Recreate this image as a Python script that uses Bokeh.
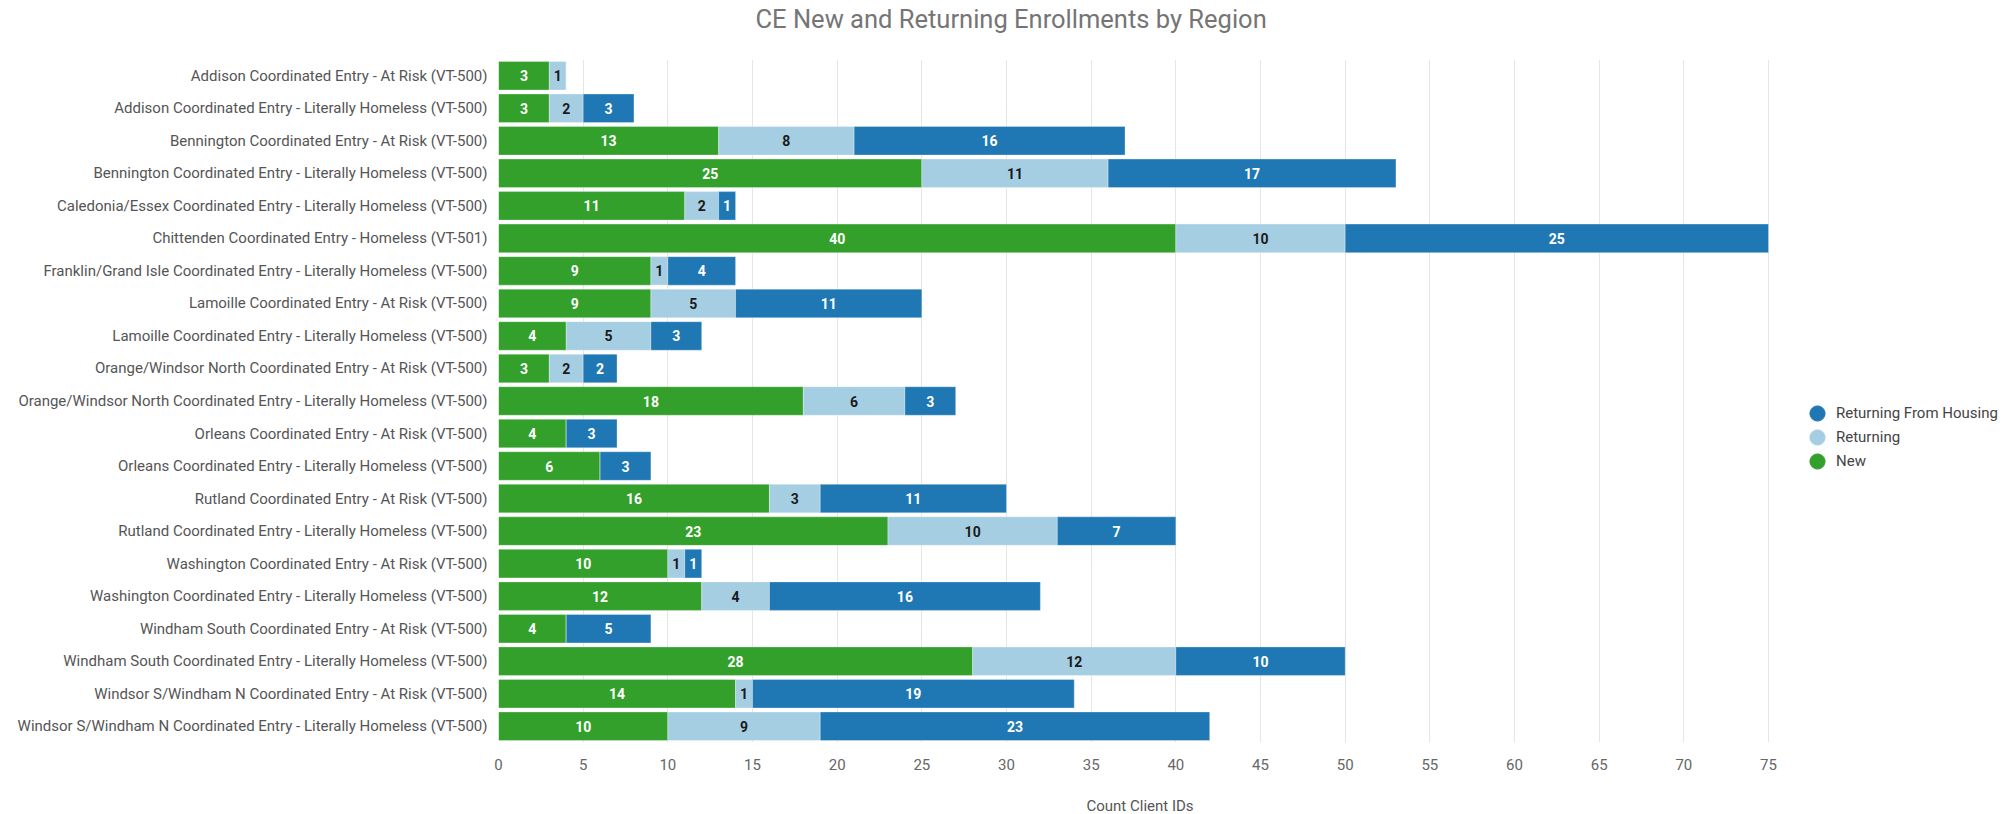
import numpy as np
from bokeh.plotting import figure
from bokeh.models import ColumnDataSource, FactorRange, Range1d, Legend, LegendItem, Title, FixedTicker
from bokeh.embed import file_html
from bokeh.resources import INLINE
from bokeh.core.properties import value

regions = [
    "Addison Coordinated Entry - At Risk (VT-500)",
    "Addison Coordinated Entry - Literally Homeless (VT-500)",
    "Bennington Coordinated Entry - At Risk (VT-500)",
    "Bennington Coordinated Entry - Literally Homeless (VT-500)",
    "Caledonia/Essex Coordinated Entry - Literally Homeless (VT-500)",
    "Chittenden Coordinated Entry - Homeless (VT-501)",
    "Franklin/Grand Isle Coordinated Entry - Literally Homeless (VT-500)",
    "Lamoille Coordinated Entry - At Risk (VT-500)",
    "Lamoille Coordinated Entry - Literally Homeless (VT-500)",
    "Orange/Windsor North Coordinated Entry - At Risk (VT-500)",
    "Orange/Windsor North Coordinated Entry - Literally Homeless (VT-500)",
    "Orleans Coordinated Entry - At Risk (VT-500)",
    "Orleans Coordinated Entry - Literally Homeless (VT-500)",
    "Rutland Coordinated Entry - At Risk (VT-500)",
    "Rutland Coordinated Entry - Literally Homeless (VT-500)",
    "Washington Coordinated Entry - At Risk (VT-500)",
    "Washington Coordinated Entry - Literally Homeless (VT-500)",
    "Windham South Coordinated Entry - At Risk (VT-500)",
    "Windham South Coordinated Entry - Literally Homeless (VT-500)",
    "Windsor S/Windham N Coordinated Entry - At Risk (VT-500)",
    "Windsor S/Windham N Coordinated Entry - Literally Homeless (VT-500)",
]
new = [3, 3, 13, 25, 11, 40, 9, 9, 4, 3, 18, 4, 6, 16, 23, 10, 12, 4, 28, 14, 10]
returning = [1, 2, 8, 11, 2, 10, 1, 5, 5, 2, 6, 0, 0, 3, 10, 1, 4, 0, 12, 1, 9]
returning_from_housing = [0, 3, 16, 17, 1, 25, 4, 11, 3, 2, 3, 3, 3, 11, 7, 1, 16, 5, 10, 19, 23]

series_keys = ["new", "returning", "rfh"]
series_names = ["New", "Returning", "Returning From Housing"]
series_colors = ["#33a02c", "#a6cee3", "#1f78b4"]
label_colors = ["#ffffff", "#1a1a1a", "#ffffff"]
x_ticks = [0, 5, 10, 15, 20, 25, 30, 35, 40, 45, 50, 55, 60, 65, 70, 75]
title_text = "CE New and Returning Enrollments by Region"
x_title = "Count Client IDs"

W, H = 2012, 814
FRAME_L, AXIS_END_PX = 498, 1768          # pixel position of x=0 and x=75
FRAME_TOP, FRAME_BOTTOM = 59, 742
x_max_axis = 75
x_end = x_max_axis * (W - FRAME_L) / (AXIS_END_PX - FRAME_L)   # frame runs to right edge (legend area)

src = ColumnDataSource(dict(region=regions, new=new, returning=returning, rfh=returning_from_housing))

p = figure(width=W, height=H,
           y_range=FactorRange(factors=list(reversed(regions))),
           x_range=Range1d(0, x_end),
           output_backend="svg", toolbar_location=None,
           min_border_left=FRAME_L, min_border_right=0,
           min_border_top=FRAME_TOP, min_border_bottom=H - FRAME_BOTTOM)

p.hbar_stack(series_keys, y="region", height=0.877, source=src,
             fill_color=series_colors, line_color="white", line_alpha=0.3, line_width=1)

# value labels at segment centers
lx, ly, lt, lc = [], [], [], []
series_vals = [new, returning, returning_from_housing]
for i, r in enumerate(regions):
    left = 0
    for k, vals in enumerate(series_vals):
        v = vals[i]
        if v > 0:
            lx.append(left + v / 2)
            ly.append(r)
            lt.append(str(v))
            lc.append(label_colors[k])
        left += v
lsrc = ColumnDataSource(dict(x=lx, y=ly, t=lt, c=lc))
p.text(x="x", y="y", text="t", text_color="c", source=lsrc,
       text_align="center", text_baseline="middle",
       text_font=value("Roboto"), text_font_style="bold", text_font_size="14px")

# legend: one single-item legend per series so that entries can sit 24px apart
legend_centers_px = {"Returning From Housing": 413, "Returning": 437, "New": 461}
GLYPH_BOX = 38   # marker drawn at 0.4 * box -> ~15px circle
for name, col in zip(series_names, series_colors):
    r = p.scatter(x=np.array([np.nan]), y=[regions[0]], size=15, marker="circle",
                  fill_color=col, line_color=col)
    cy = legend_centers_px[name]
    lg = Legend(items=[LegendItem(label=name, renderers=[r])],
                location=(1817 - GLYPH_BOX // 2 - FRAME_L, FRAME_BOTTOM - (cy + GLYPH_BOX // 2)),
                padding=0, margin=0, spacing=0,
                glyph_width=GLYPH_BOX, glyph_height=GLYPH_BOX, label_height=24, label_standoff=0,
                border_line_color=None, background_fill_alpha=0,
                label_text_font="Roboto", label_text_font_size="15px", label_text_color="#444444")
    p.add_layout(lg)

# above: spacer next to the frame, then the chart title
p.add_layout(Title(text=" ", text_font_size="1px", standoff=23), "above")
p.add_layout(Title(text=title_text, align="left", offset=257, standoff=0,
                   text_font="Roboto", text_font_size="25.5px", text_font_style="normal",
                   text_color="#757575"), "above")

# below: axis, spacer, then the x axis title (centered under the 0..75 axis)
p.add_layout(Title(text=" ", text_font_size="1px", standoff=19), "below")
p.add_layout(Title(text=x_title, align="left", offset=588, standoff=0,
                   text_font="Roboto", text_font_size="15px", text_font_style="normal",
                   text_color="#555555"), "below")

p.xaxis.ticker = FixedTicker(ticks=x_ticks)
p.xaxis.major_label_text_font = "Roboto"
p.xaxis.major_label_text_font_size = "15px"
p.xaxis.major_label_text_color = "#666666"
p.xaxis.major_label_standoff = 16
p.xaxis.major_tick_out = 0
p.xaxis.major_tick_in = 0
p.xaxis.minor_tick_out = 0
p.xaxis.minor_tick_in = 0
p.xaxis.axis_line_color = None
p.xaxis.major_tick_line_color = None
p.xaxis.minor_tick_line_color = None

p.yaxis.major_label_text_font = "Roboto"
p.yaxis.major_label_text_font_size = "15px"
p.yaxis.major_label_text_color = "#555555"
p.yaxis.major_label_standoff = 11
p.yaxis.major_tick_out = 0
p.yaxis.major_tick_in = 0
p.yaxis.minor_tick_out = 0
p.yaxis.axis_line_color = None
p.yaxis.major_tick_line_color = None
p.yaxis.minor_tick_line_color = None

p.xgrid.ticker = FixedTicker(ticks=x_ticks)
p.xgrid.grid_line_color = "#e6e6e6"
p.ygrid.grid_line_color = None
p.outline_line_color = None

open("out.html", "w").write(file_html(p, INLINE))
